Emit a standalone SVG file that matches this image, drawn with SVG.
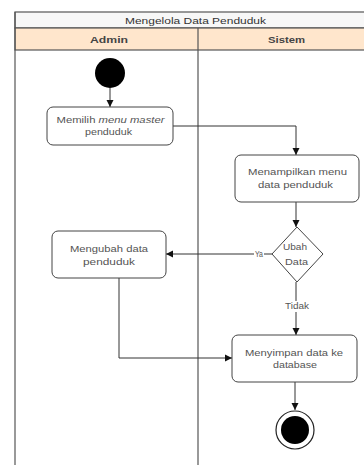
<svg xmlns="http://www.w3.org/2000/svg" width="364" height="465" viewBox="0 0 364 465">
<style>
.frame{fill:none;stroke:#555;stroke-width:1.2}
.node{fill:#fff;stroke:#444;stroke-width:1}
.t{font-family:"Liberation Sans",Arial,sans-serif;font-size:9px;fill:#555;text-anchor:middle}
.ttl{font-family:"Liberation Sans",Arial,sans-serif;font-size:9.5px;fill:#333;text-anchor:middle}
.h{font-family:"Liberation Sans",Arial,sans-serif;font-size:9.5px;font-weight:bold;fill:#444;text-anchor:middle}
.c{fill:none;stroke:#333;stroke-width:1}
.lbl{font-family:"Liberation Sans",Arial,sans-serif;font-size:8.5px;fill:#555;text-anchor:middle}
</style>
<defs>
<marker id="arr" markerWidth="8" markerHeight="8" refX="7" refY="4" orient="auto" markerUnits="userSpaceOnUse">
<path d="M0,0.5 L7,4 L0,7.5 z" fill="#111"/>
</marker>
</defs>
<rect width="364" height="465" fill="#fff"/>
<g id="pool">
<rect x="15" y="12" width="365" height="16" fill="#f7f7f7" stroke="#555" stroke-width="1.2"/>
<text class="ttl" x="195.5" y="23.5" textLength="141" lengthAdjust="spacingAndGlyphs">Mengelola Data Penduduk</text>
<rect x="15" y="28" width="365" height="22" fill="#ffe6cc" stroke="#555" stroke-width="1.2"/>
<text class="h" x="109" y="42.5" textLength="38" lengthAdjust="spacingAndGlyphs">Admin</text>
<text class="h" x="286.5" y="42.5" textLength="37" lengthAdjust="spacingAndGlyphs">Sistem</text>
<line class="frame" x1="15" y1="12" x2="15" y2="466"/>
<line class="frame" x1="198" y1="28" x2="198" y2="466"/>
</g>
<g id="connectors">
<line class="c" x1="110" y1="88" x2="110" y2="107" marker-end="url(#arr)"/>
<polyline class="c" points="173,126 296,126 296,155" marker-end="url(#arr)"/>
<line class="c" x1="296" y1="202" x2="296" y2="227" marker-end="url(#arr)"/>
<line class="c" x1="272" y1="254" x2="166" y2="254" marker-end="url(#arr)"/>
<line class="c" x1="296" y1="282" x2="296" y2="335" marker-end="url(#arr)"/>
<polyline class="c" points="119,278 119,358 232,358" marker-end="url(#arr)"/>
<line class="c" x1="295" y1="382" x2="295" y2="410" marker-end="url(#arr)"/>
<rect x="254" y="249" width="10" height="10" fill="#fff"/>
<text class="lbl" x="259" y="257" textLength="8" lengthAdjust="spacingAndGlyphs">Ya</text>
<rect x="284" y="301" width="26" height="11" fill="#fff"/>
<text class="lbl" x="297" y="309" textLength="24" lengthAdjust="spacingAndGlyphs">Tidak</text>
</g>
<g id="start">
<circle cx="110" cy="73" r="15" fill="#000"/>
</g>
<g id="n1">
<rect class="node" x="47" y="107" width="126" height="38" rx="6"/>
<text class="t" x="110.5" y="123" textLength="108" lengthAdjust="spacingAndGlyphs">Memilih <tspan font-style="italic">menu master</tspan></text>
<text class="t" x="108.5" y="135" textLength="47" lengthAdjust="spacingAndGlyphs">penduduk</text>
</g>
<g id="n2">
<rect class="node" x="235" y="155" width="124" height="47" rx="6"/>
<text class="t" x="297.5" y="175" textLength="99" lengthAdjust="spacingAndGlyphs">Menampilkan menu</text>
<text class="t" x="295.5" y="188" textLength="75" lengthAdjust="spacingAndGlyphs">data penduduk</text>
</g>
<g id="d1">
<polygon class="node" points="297,227 323,254 297,282 272,254"/>
<text class="t" x="295" y="250" textLength="24" lengthAdjust="spacingAndGlyphs">Ubah</text>
<text class="t" x="296.5" y="265" textLength="23" lengthAdjust="spacingAndGlyphs">Data</text>
</g>
<g id="n3">
<rect class="node" x="52" y="231" width="114" height="47" rx="6"/>
<text class="t" x="109" y="252" textLength="78" lengthAdjust="spacingAndGlyphs">Mengubah data</text>
<text class="t" x="109" y="265" textLength="52" lengthAdjust="spacingAndGlyphs">penduduk</text>
</g>
<g id="n4">
<rect class="node" x="232" y="335" width="125" height="47" rx="6"/>
<text class="t" x="294" y="356" textLength="98" lengthAdjust="spacingAndGlyphs">Menyimpan data ke</text>
<text class="t" x="295" y="368" textLength="44" lengthAdjust="spacingAndGlyphs">database</text>
</g>
<g id="end">
<circle cx="295" cy="430" r="19" fill="#fff" stroke="#222" stroke-width="1.2"/>
<circle cx="295" cy="430" r="14" fill="#000"/>
</g>
</svg>
